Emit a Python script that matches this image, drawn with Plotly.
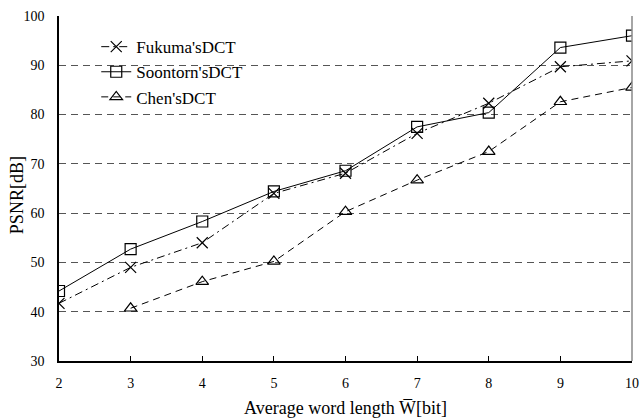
import plotly.graph_objects as go

x_vals = [2, 3, 4, 5, 6, 7, 8, 9, 10]
fukuma = [41.7, 49.0, 54.0, 64.0, 68.1, 76.2, 82.3, 89.7, 90.9]
soontorn = [44.2, 52.7, 58.3, 64.4, 68.6, 77.5, 80.4, 93.6, 96.0]
chen_x = [3, 4, 5, 6, 7, 8, 9, 10]
chen = [40.7, 46.1, 50.2, 60.3, 66.7, 72.5, 82.6, 85.5]
names = ["Fukuma'sDCT", "Soontorn'sDCT", "Chen'sDCT"]
y_title = "PSNR[dB]"
x_title = "Average word length W\u0305[bit]"

FONT = "Liberation Serif, Times New Roman, serif"

fig = go.Figure()
fig.add_trace(go.Scatter(
    x=x_vals, y=fukuma, name=names[0], mode="lines+markers",
    line=dict(color="black", width=1, dash="8px,4px,2px,4px"),
    marker=dict(symbol="x-thin-open", size=11, color="black",
                line=dict(color="black", width=1.2))))
fig.add_trace(go.Scatter(
    x=x_vals, y=soontorn, name=names[1], mode="lines+markers",
    line=dict(color="black", width=1),
    marker=dict(symbol="square-open", size=11, color="black",
                line=dict(color="black", width=1.2))))
fig.add_trace(go.Scatter(
    x=chen_x, y=chen, name=names[2], mode="lines+markers",
    line=dict(color="black", width=1, dash="7px,5px"),
    marker=dict(symbol="triangle-up-open", size=11, color="black",
                line=dict(color="black", width=1.2))))

# right border (gray solid)
fig.add_shape(type="line", xref="paper", yref="paper", x0=1, x1=1, y0=0, y1=1,
              line=dict(color="#888888", width=1.5))

fig.add_annotation(text=y_title, xref="paper", yref="paper",
                   x=-0.072, y=0.48, xanchor="center", yanchor="middle",
                   textangle=-90, showarrow=False,
                   font=dict(size=18, family=FONT, color="black"))

fig.update_layout(
    width=640, height=418,
    margin=dict(l=59, r=8, t=16, b=57),
    paper_bgcolor="white", plot_bgcolor="white",
    font=dict(family=FONT, color="black", size=14),
    showlegend=True,
    legend=dict(x=0.065, y=0.962, xanchor="left", yanchor="top",
                bgcolor="rgba(0,0,0,0)", font=dict(size=17, family=FONT),
                tracegroupgap=0),
    xaxis=dict(range=[2, 10], dtick=1, tick0=2, showgrid=False,
               showline=True, linecolor="black", linewidth=1.5,
               ticks="inside", ticklen=5, tickcolor="black",
               ticklabelstandoff=8, zeroline=False, automargin=False,
               tickfont=dict(size=14, family=FONT),
               title=dict(text=x_title,
                          font=dict(size=18, family=FONT), standoff=14)),
    yaxis=dict(range=[30, 100], dtick=10, tick0=30, showgrid=True,
               gridcolor="#555555", griddash="7px,5px", gridwidth=1,
               showline=True, linecolor="black", linewidth=1.5,
               ticks="", ticklabelstandoff=10, zeroline=False, automargin=False,
               tickfont=dict(size=14, family=FONT)),
)

fig.write_html("out.html")
